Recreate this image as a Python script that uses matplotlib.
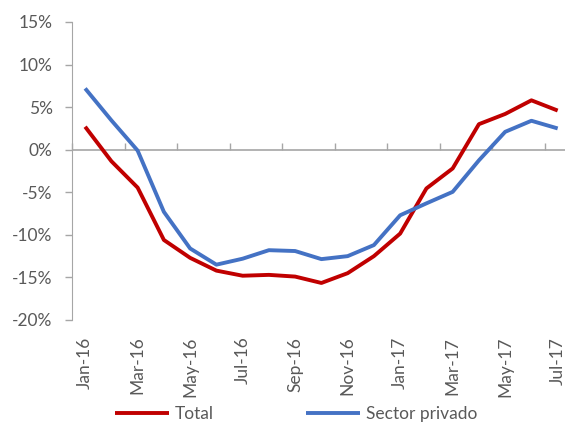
import matplotlib
matplotlib.use("Agg")
import matplotlib.pyplot as plt
from matplotlib.ticker import FuncFormatter

months = ["Jan-16", "Feb-16", "Mar-16", "Apr-16", "May-16", "Jun-16", "Jul-16", "Aug-16",
          "Sep-16", "Oct-16", "Nov-16", "Dec-16", "Jan-17", "Feb-17", "Mar-17", "Apr-17",
          "May-17", "Jun-17", "Jul-17"]
total = [2.7, -1.35, -4.45, -10.6, -12.7, -14.2, -14.8, -14.7, -14.9, -15.65, -14.5,
         -12.5, -9.85, -4.55, -2.2, 3.0, 4.2, 5.8, 4.6]
privado = [7.2, 3.45, -0.1, -7.3, -11.6, -13.5, -12.8, -11.8, -11.9, -12.85, -12.5,
           -11.2, -7.7, -6.3, -4.95, -1.25, 2.1, 3.4, 2.5]
yticks = [-20, -15, -10, -5, 0, 5, 10, 15]

plt.rcParams['font.family'] = ['Lato', 'DejaVu Sans']
txt = '#595959'
axc = '#A6A6A6'
fs = 12.5

fig = plt.figure(figsize=(5.65, 4.23), dpi=100)
ax = fig.add_axes([72/565, 1-320/423, (570.8-72)/565, (320-22)/423])

x = list(range(len(months)))
ax.axhline(0, color=axc, lw=1.2, zorder=1)
ax.plot(x, total, color='#C00000', lw=2.8, label='Total', solid_capstyle='butt', zorder=3)
ax.plot(x, privado, color='#4472C4', lw=2.8, label='Sector privado', solid_capstyle='butt', zorder=3)

ax.set_xlim(-0.5, len(months) - 0.5)
ax.set_ylim(-20, 15)
ax.set_yticks(yticks)
ax.yaxis.set_major_formatter(FuncFormatter(lambda v, p: f"{int(v)}%"))
ax.tick_params(axis='y', colors=axc, labelcolor=txt, labelsize=fs, length=5, width=1, pad=9)

for s in ['top', 'right', 'bottom']:
    ax.spines[s].set_visible(False)
ax.spines['left'].set_color(axc)

# category labels at the bottom
ax.set_xticks(x[::2])
ax.set_xticklabels(months[::2], rotation=90, color=txt, fontsize=fs)
ax.tick_params(axis='x', length=0, pad=12)

# tick marks on the zero line between categories
sec = ax.secondary_xaxis(20/35)
for s in sec.spines.values():
    s.set_visible(False)
sec.set_xticks([i - 0.5 for i in x[::2]])
sec.set_xticklabels([])
sec.tick_params(axis='x', colors=axc, length=5, width=1)

fig.legend(loc='center', bbox_to_anchor=(296/565, 1-414/423), ncol=2, frameon=False,
           handlelength=3.1, columnspacing=5.3, handletextpad=0.35, fontsize=fs,
           labelcolor=txt)

fig.savefig('out.png', dpi=100)
